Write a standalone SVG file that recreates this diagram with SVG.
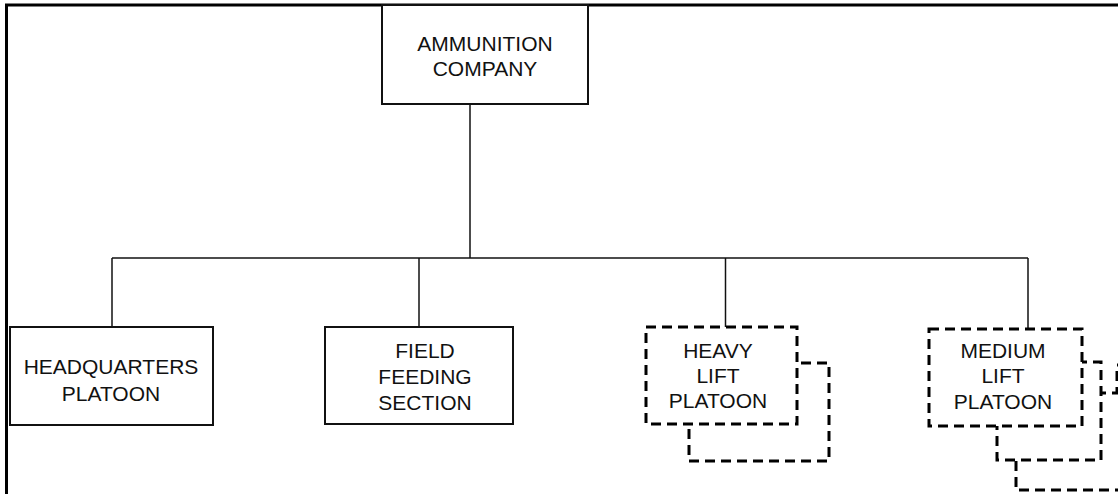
<svg xmlns="http://www.w3.org/2000/svg" width="1118" height="494" viewBox="0 0 1118 494">
<style>
.box{fill:#fff;stroke:#111;stroke-width:2}
.dbox{fill:#fff;stroke:#000;stroke-width:3;stroke-dasharray:10 6}
.conn{fill:none;stroke:#111;stroke-width:1.5}
.frame{fill:none;stroke:#000;stroke-width:3}
text{font-family:"Liberation Sans",Arial,sans-serif;font-size:21px;fill:#111;text-anchor:middle}
</style>
<rect width="1118" height="494" fill="#fff"/>
<g id="frame">
<line class="frame" x1="5" y1="5" x2="1118" y2="5"/>
<line class="frame" x1="6.5" y1="4" x2="6.5" y2="494"/>
</g>
<g id="connectors">
<line class="conn" x1="470" y1="104" x2="470" y2="258"/>
<line class="conn" x1="112" y1="258" x2="1028" y2="258"/>
<line class="conn" x1="112" y1="258" x2="112" y2="327"/>
<line class="conn" x1="419" y1="258" x2="419" y2="327"/>
<line class="conn" x1="725.5" y1="258" x2="725.5" y2="327"/>
<line class="conn" x1="1028" y1="258" x2="1028" y2="330"/>
</g>
<g id="ammunition-company">
<rect class="box" x="382" y="5" width="206" height="99"/>
<text x="485" y="51">AMMUNITION</text>
<text x="485" y="76">COMPANY</text>
</g>
<g id="headquarters-platoon">
<rect class="box" x="10" y="327" width="203" height="98"/>
<text x="111" y="374">HEADQUARTERS</text>
<text x="111" y="401">PLATOON</text>
</g>
<g id="field-feeding-section">
<rect class="box" x="325" y="327" width="188" height="97"/>
<text x="425" y="358">FIELD</text>
<text x="425" y="384">FEEDING</text>
<text x="425" y="410">SECTION</text>
</g>
<g id="heavy-lift-platoon">
<rect class="dbox" x="689" y="363" width="140" height="98"/>
<rect class="dbox" x="646" y="327" width="151" height="97"/>
<text x="718" y="358">HEAVY</text>
<text x="718" y="383">LIFT</text>
<text x="718" y="408">PLATOON</text>
</g>
<g id="medium-lift-platoon">
<rect class="dbox" x="1117" y="365" width="150" height="98"/>
<rect class="dbox" x="1016" y="393" width="150" height="97"/>
<rect class="dbox" x="997" y="362" width="104" height="98"/>
<rect class="dbox" x="929" y="329" width="153" height="97"/>
<text x="1003" y="358">MEDIUM</text>
<text x="1003" y="383">LIFT</text>
<text x="1003" y="409">PLATOON</text>
</g>
</svg>
